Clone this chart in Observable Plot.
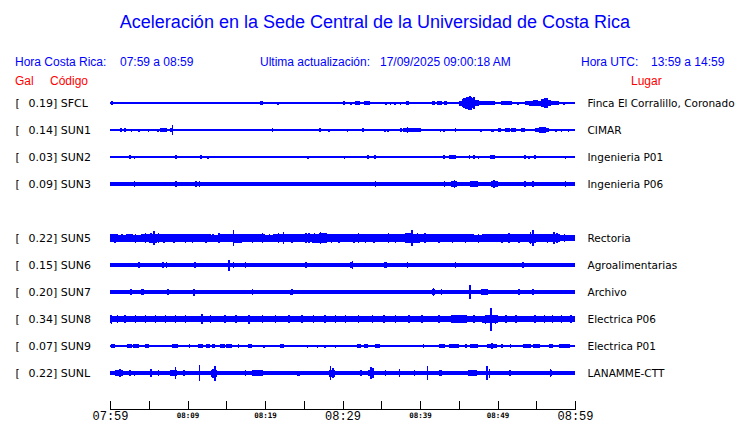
<!DOCTYPE html>
<html><head><meta charset="utf-8">
<script src="https://cdn.jsdelivr.net/npm/d3@7"></script>
<script src="https://cdn.jsdelivr.net/npm/@observablehq/plot@0.6"></script>
<style>
body{margin:0;background:#fff;}
#wrap{position:relative;width:740px;height:423px;overflow:hidden;font-family:"Liberation Sans",Arial,sans-serif;}
#wrap svg{position:absolute;left:0;top:0;}
.h{position:absolute;white-space:pre;line-height:1;z-index:2;}
.t{font-size:18px;color:#0000ff;}
.b{font-size:12px;color:#0000ff;}
.r{font-size:12px;color:#ff0000;}
</style></head><body><div id="wrap"></div>
<script>
// ---- chart text ----
const title = "Aceleración en la Sede Central de la Universidad de Costa Rica";
const headerRow = [
  {text: "Hora Costa Rica:", left: 15},
  {text: "07:59 a 08:59", left: 120},
  {text: "Ultima actualización:", left: 260},
  {text: "17/09/2025 09:00:18 AM", left: 380},
  {text: "Hora UTC:", left: 581},
  {text: "13:59 a 14:59", left: 651}
];
const redRow = [
  {text: "Gal", left: 15},
  {text: "Código", left: 50},
  {text: "Lugar", left: 631}
];

// ---- stations ----
const codes  = ["SFCL","SUN1","SUN2","SUN3","SUN5","SUN6","SUN7","SUN8","SUN9","SUNL"];
const gals   = [0.19, 0.14, 0.03, 0.09, 0.22, 0.15, 0.20, 0.34, 0.07, 0.22];
const places = ["Finca El Corralillo, Coronado","CIMAR","Ingenieria P01","Ingenieria P06","Rectoria","Agroalimentarias","Archivo","Electrica P06","Electrica P01","LANAMME-CTT"];
const slots  = [0, 1, 2, 3, 5, 6, 7, 8, 9, 10];   // SUN4 slot is empty
// trace half-thickness of the quiet signal (trace units; 27 units = one row)
const baseHalf = [0.6, 0.6, 0.6, 2.0, 2.8, 1.7, 1.7, 2.5, 0.6, 1.7];

// ---- time axis (minutes after 07:59) ----
const tickMinutes  = [0,5,10,15,20,25,30,35,40,45,50,55,60];
const majorMinutes = [0, 30, 60];
const majorLabels  = ["07:59","08:29","08:59"];
const minorMinutes = [10, 20, 40, 50];
const minorLabels  = ["08:09","08:19","08:39","08:49"];

// ---- per-minute noise envelopes of the noisy traces ----
const envSUN5 = [3.7,3.5,3.8,3.5,4.1,4.5,4.3,3.9,4.0,3.8,3.7,4.1,3.9,3.5,3.8,4.3,4.5,3.9,3.7,4.0,3.5,3.9,4.3,3.8,3.7,4.3,4.5,4.7,4.3,4.0,3.8,4.1,3.7,3.9,4.3,4.0,3.8,3.9,4.7,4.5,4.1,3.8,4.1,3.7,3.9,4.0,3.7,3.5,3.8,3.6,4.1,4.3,3.9,3.7,4.5,4.0,3.8,4.3,3.3,3.0];
const envSUN8 = [3.2,3.0,3.2,3.2,3.1,3.0,3.1,3.2,3.0,3.1,3.0,3.3,3.1,3.0,3.2,3.0,3.1,3.3,3.0,3.1,3.0,3.2,3.0,3.1,3.0,3.1,3.0,3.1,3.2,3.0,3.1,3.0,3.1,3.2,3.0,3.1,3.2,3.0,3.1,3.2,3.3,3.1,3.0,3.2,3.6,3.6,3.2,3.1,3.5,3.6,3.2,3.1,3.2,3.1,3.2,3.0,3.1,3.2,3.0,3.1];

// ---- bursts [start min, end min, half amplitude] ----
const blocksSFCL = [[0.1,0.45,1.6],[19.4,19.75,1.6],[30.0,30.35,2.2],[31.6,32.3,2.0],[32.8,33.6,1.6],[35.5,35.8,1.5],[38.2,38.6,1.6],[41.5,41.9,1.6],[42.2,42.8,1.6],[43.1,43.5,2.2],[45.0,45.4,2.5],[45.4,45.8,4.0],[45.8,46.2,5.5],[46.2,46.7,6.5],[46.7,47.1,5.0],[47.1,47.6,3.0],[47.6,49.7,1.6],[50.5,51.9,1.6],[53.6,54.0,2.0],[54.0,54.6,2.5],[54.6,55.2,3.0],[55.2,55.6,2.5],[55.6,56.0,4.0],[56.0,56.5,4.7],[56.5,56.9,3.0],[56.9,57.9,1.6]];
const blocksSUN1 = [[1.3,1.6,1.6],[1.8,2.0,1.6],[4.5,4.7,1.2],[6.0,6.3,1.5],[6.5,7.0,2.0],[7.0,7.4,1.7],[8.2,9.2,1.2],[37.4,37.7,1.8],[37.8,38.5,2.4],[38.5,39.0,1.8],[39.0,40.1,1.6],[42.0,42.2,1.4],[49.2,49.6,1.5],[50.0,50.5,2.0],[51.0,51.6,1.6],[51.8,52.4,1.8],[53.0,53.5,1.6],[54.8,55.4,1.8],[55.4,56.2,2.6],[56.2,56.6,1.8]];
const blocksSUN2 = [[8.4,8.7,1.8],[11.6,11.9,1.8],[43.7,44.6,1.9],[46.3,46.5,1.7],[46.8,47.1,1.7],[49.0,49.7,1.9],[54.7,55.0,1.8]];
const blocksSUN3 = [[8.4,8.7,2.8],[44.0,44.8,3.3],[46.4,47.5,2.8],[49.2,50.1,3.2]];
const blocksSUN5 = [];
const blocksSUN6 = [[14.0,14.5,2.2],[31.0,31.4,2.6],[35.3,35.7,2.6],[44.3,44.7,2.4],[53.0,53.4,2.4]];
const blocksSUN7 = [[2.6,2.9,2.6],[4.0,4.4,2.6],[7.3,7.6,2.4],[23.2,23.6,2.5],[41.5,41.9,3.0],[47.9,48.8,2.8]];
const blocksSUN8 = [[0.0,0.3,4.0],[44.0,45.0,3.8],[48.4,49.5,4.0]];
const blocksSUN9 = [[0.1,0.6,1.8],[2.2,2.8,1.8],[3.0,3.7,1.8],[4.5,5.0,1.6],[8.0,8.8,1.8],[11.4,12.0,1.7],[12.4,12.9,1.8],[13.1,13.5,1.7],[14.2,14.8,1.8],[15.0,15.7,1.8],[17.8,18.3,2.0],[21.9,22.4,1.8],[31.9,32.4,1.7],[32.8,33.3,1.9],[34.2,34.8,1.8],[42.5,43.2,1.8],[43.7,45.0,1.9],[46.5,47.5,1.8],[48.7,49.9,2.0],[53.3,54.3,1.8],[54.6,55.5,1.8],[56.6,57.1,1.6],[57.9,59.4,1.6]];
const blocksSUNL = [[0.6,1.7,2.8],[7.7,8.6,3.0],[13.0,13.8,3.5],[18.3,19.8,2.6],[24.1,24.5,2.5],[28.2,29.0,3.5],[33.3,34.1,3.3],[39.0,39.4,2.4],[42.4,42.8,3.0],[46.2,47.3,2.8],[51.5,51.8,2.8]];

// ---- single spikes [minute, half amplitude] ----
const spikesSFCL = [[21.6,1.5],[31.0,1.5],[36.1,1.5],[36.7,1.5],[37.4,1.5],[39.9,1.3],[52.6,1.5],[58.5,1.5],[45.6,5.0],[46.0,6.0],[46.4,7.0],[46.9,5.8],[56.3,5.0],[55.8,4.3]];
const spikesSUN1 = [[2.7,1.5],[3.7,1.5],[4.9,1.5],[7.8,2.0],[8.0,5.0],[20.9,1.6],[27.0,1.6],[28.2,1.5],[30.6,1.5],[32.6,1.6],[35.4,1.5],[35.8,1.5],[38.3,2.8],[42.6,1.5],[43.0,1.5],[44.5,1.6],[47.8,1.5],[55.9,3.2],[57.5,1.5],[58.2,1.5],[59.1,1.5]];
const spikesSUN2 = [[2.5,1.8],[3.1,1.5],[8.5,2.0],[11.7,2.0],[12.6,1.5],[25.5,1.5],[30.2,1.5],[33.2,1.6],[34.1,1.8],[41.8,1.3],[43.0,1.8],[47.5,1.5],[53.5,1.8],[54.0,1.5],[54.8,1.8],[56.6,1.4],[58.7,1.5]];
const spikesSUN3 = [[3.1,3.0],[8.5,3.0],[11.0,3.0],[11.5,3.0],[34.2,2.7],[43.1,3.0],[44.4,4.2],[46.6,3.2],[47.2,3.2],[49.5,3.8],[53.5,3.0],[54.5,3.0],[58.7,3.0]];
const spikesSUN5 = [[0.6,4.5],[1.5,4.3],[2.3,4.2],[3.2,4.5],[4.5,5],[5.2,5],[5.6,6.7],[6.2,5],[6.9,4.5],[7.5,4.3],[8.2,4.5],[9.7,4.5],[10.6,4.5],[11.3,4.3],[12.3,4.5],[13.2,4.2],[14.0,4.8],[15.9,8.2],[16.8,4.5],[17.5,4.3],[18.3,4.5],[19.6,4.8],[20.5,4.2],[21.7,5],[22.3,5.8],[23.4,4.5],[24.3,4.3],[25.2,5],[25.6,5],[26.3,4.7],[27.1,6],[27.7,5],[28.5,4.5],[29.5,4.5],[30.8,4.3],[31.4,4.5],[32.0,5],[32.9,4.5],[33.5,4.2],[34.0,4.5],[35.2,4.3],[35.9,5],[36.8,4.5],[37.6,4.3],[38.9,7.7],[39.6,5.3],[40.6,4.8],[41.5,4.3],[42.4,4.5],[43.2,4.2],[44.1,4.5],[45.0,4.3],[45.8,4.5],[46.6,4.2],[47.5,4.5],[48.6,4.2],[49.5,4.2],[50.5,4.5],[51.4,5],[52.7,4.5],[53.4,4.3],[54.2,6.2],[54.5,7.7],[55.3,4.3],[56.4,4.5],[57.2,5.8],[57.6,5],[58.6,3.9]];
const spikesSUN6 = [[3.7,2.6],[6.8,3.0],[7.2,2.6],[10.9,2.6],[14.2,2.4],[15.3,5.5],[15.9,2.6],[17.4,3.0],[25.2,2.6],[28.0,2.2],[31.2,4.0],[35.5,3.0],[37.0,2.4],[37.7,2.4],[38.3,3.0],[39.4,2.4],[40.2,2.4],[44.5,3.0],[46.3,2.3],[53.2,3.0]];
const spikesSUN7 = [[1.7,2.3],[2.7,2.7],[4.2,2.7],[7.4,3.0],[10.8,3.5],[12.4,2.3],[13.6,2.3],[14.9,2.3],[16.2,2.3],[18.3,2.6],[20.3,2.3],[21.5,2.3],[23.4,2.8],[27.6,2.4],[41.7,4.3],[42.7,2.6],[46.4,7.2],[48.0,3.0],[48.5,3.4],[50.9,2.3],[52.7,2.6],[54.5,2.8]];
const spikesSUN8 = [[0.1,4.5],[0.9,4],[1.9,3.8],[3.2,4],[4.5,3.8],[5.8,3.6],[7.1,3.8],[8.4,3.6],[9.7,3.8],[11.8,5.3],[12.9,3.8],[14.8,4],[16.2,3.6],[17.9,4.5],[19.6,3.6],[21.3,3.6],[23.0,3.6],[24.7,3.8],[26.2,3.6],[27.7,3.8],[29.0,3.6],[30.3,3.6],[32.0,3.8],[33.8,3.6],[35.3,3.6],[36.8,3.8],[38.5,3.6],[40.2,4.2],[42.4,3.6],[44.1,4],[44.5,4.3],[46.9,4],[48.4,4.5],[49.1,11.5],[49.7,4.5],[51.0,3.6],[52.3,3.8],[54.8,3.6],[56.0,3.6],[57.0,3.8],[58.2,3.6],[59.4,3.6]];
const spikesSUN9 = [[10.2,1.6],[16.5,1.6],[19.8,1.5],[25.4,1.5],[26.7,1.5],[27.7,1.5],[29.0,1.5],[40.4,1.6],[45.9,1.6],[49.2,2.7],[50.5,1.6],[51.6,1.6]];
const spikesSUNL = [[1.2,3.6],[2.5,3.0],[3.1,2.5],[5.2,3.6],[6.2,2.6],[8.4,5.7],[9.5,2.6],[11.5,8.3],[13.2,4.5],[13.5,7.5],[15.5,2.4],[17.0,2.4],[17.4,3.3],[19.0,3.0],[20.8,2.4],[21.9,2.4],[23.0,2.4],[26.5,2.4],[28.4,6.7],[28.7,5.0],[29.7,2.4],[30.3,2.4],[31.2,2.4],[32.3,2.6],[33.6,5.8],[33.9,5.0],[35.5,2.6],[37.3,3.6],[39.2,2.8],[40.9,6.7],[42.6,3.4],[43.7,2.4],[44.5,2.4],[46.5,3.4],[48.6,7.3],[48.9,4.5],[51.6,3.3],[53.1,2.4],[55.0,2.4],[56.8,4.2],[56.9,3.0]];

const blocksAll = [blocksSFCL,blocksSUN1,blocksSUN2,blocksSUN3,blocksSUN5,blocksSUN6,blocksSUN7,blocksSUN8,blocksSUN9,blocksSUNL];
const spikesAll = [spikesSFCL,spikesSUN1,spikesSUN2,spikesSUN3,spikesSUN5,spikesSUN6,spikesSUN7,spikesSUN8,spikesSUN9,spikesSUNL];
const envAll = {4: envSUN5, 7: envSUN8};

// ---- build tables for the marks ----
const GAIN = 1 / 27; // trace units -> rows
const stations = codes.map((c, i) => ({code: c, gal: gals[i], place: places[i], slot: slots[i]}));
const rects = [];
const rules = [];
codes.forEach((c, i) => {
  const s = slots[i];
  rects.push({x1: 0, x2: 60, y1: s - baseHalf[i] * GAIN, y2: s + baseHalf[i] * GAIN});
  const env = envAll[i];
  if (env) env.forEach((a, m) => rects.push({x1: m, x2: m + 1, y1: s - a * GAIN, y2: s + a * GAIN}));
  blocksAll[i].forEach(([t0, t1, a]) => rects.push({x1: t0, x2: t1, y1: s - a * GAIN, y2: s + a * GAIN}));
  spikesAll[i].forEach(([t, a]) => rules.push({x: t, y1: s - a * GAIN, y2: s + a * GAIN}));
});

const majorMap = new Map(majorMinutes.map((m, i) => [m, majorLabels[i]]));
const minorMap = new Map(minorMinutes.map((m, i) => [m, minorLabels[i]]));

const BLUE = "#0000ff";
const chart = Plot.plot({
  width: 740,
  height: 423,
  marginLeft: 110,
  marginRight: 165,
  marginTop: 90,
  marginBottom: 14,
  style: {background: "transparent", overflow: "visible"},
  x: {domain: [0, 60]},
  y: {domain: [-0.4815, 11.333], reverse: true, axis: null},
  marks: [
    Plot.rect(rects, {x1: "x1", x2: "x2", y1: "y1", y2: "y2", fill: BLUE, shapeRendering: "crispEdges"}),
    Plot.ruleX(rules, {x: "x", y1: "y1", y2: "y2", stroke: BLUE, strokeWidth: 1.5, shapeRendering: "crispEdges"}),
    Plot.text(stations, {y: "slot", frameAnchor: "left", dx: -95, text: () => "[", textAnchor: "start", fontFamily: "DejaVu Sans", fontSize: 11, fill: "black"}),
    Plot.text(stations, {y: "slot", frameAnchor: "left", dx: -82, text: d => `${d.gal.toFixed(2)}] ${d.code}`, textAnchor: "start", fontFamily: "DejaVu Sans", fontSize: 11, fill: "black"}),
    Plot.text(stations, {y: "slot", frameAnchor: "right", dx: 12, text: "place", textAnchor: "start", fontFamily: "DejaVu Sans", fontSize: 10.5, fill: "black"}),
    Plot.frame({anchor: "bottom", stroke: "black", shapeRendering: "crispEdges"}),
    Plot.axisX({ticks: tickMinutes, tickSize: -8, tickFormat: () => "", label: null, stroke: "black", shapeRendering: "crispEdges"}),
    Plot.axisX({ticks: majorMinutes, tickSize: 0, tickPadding: 2, tickFormat: d => majorMap.get(d), label: null, fontFamily: "Liberation Mono", fontSize: 12, fill: "black"}),
    Plot.axisX({ticks: minorMinutes, tickSize: 0, tickPadding: 3, tickFormat: d => minorMap.get(d), label: null, fontFamily: "DejaVu Sans Mono", fontSize: 7.5, fontWeight: "bold", fill: "black"})
  ]
});

const wrap = document.getElementById("wrap");
wrap.appendChild(chart);
function addText(text, cls, left, top) {
  const el = document.createElement("div");
  el.className = "h " + cls;
  el.textContent = text;
  el.style.left = left + "px";
  el.style.top = top + "px";
  wrap.appendChild(el);
  return el;
}
const tEl = addText(title, "t", 0, 13);
tEl.style.left = "0px"; tEl.style.width = "740px"; tEl.style.textAlign = "center"; tEl.style.paddingLeft = "10px"; tEl.style.boxSizing = "border-box";
headerRow.forEach(h => addText(h.text, "b", h.left, 56));
redRow.forEach(h => addText(h.text, "r", h.left, 75));
</script></body></html>
